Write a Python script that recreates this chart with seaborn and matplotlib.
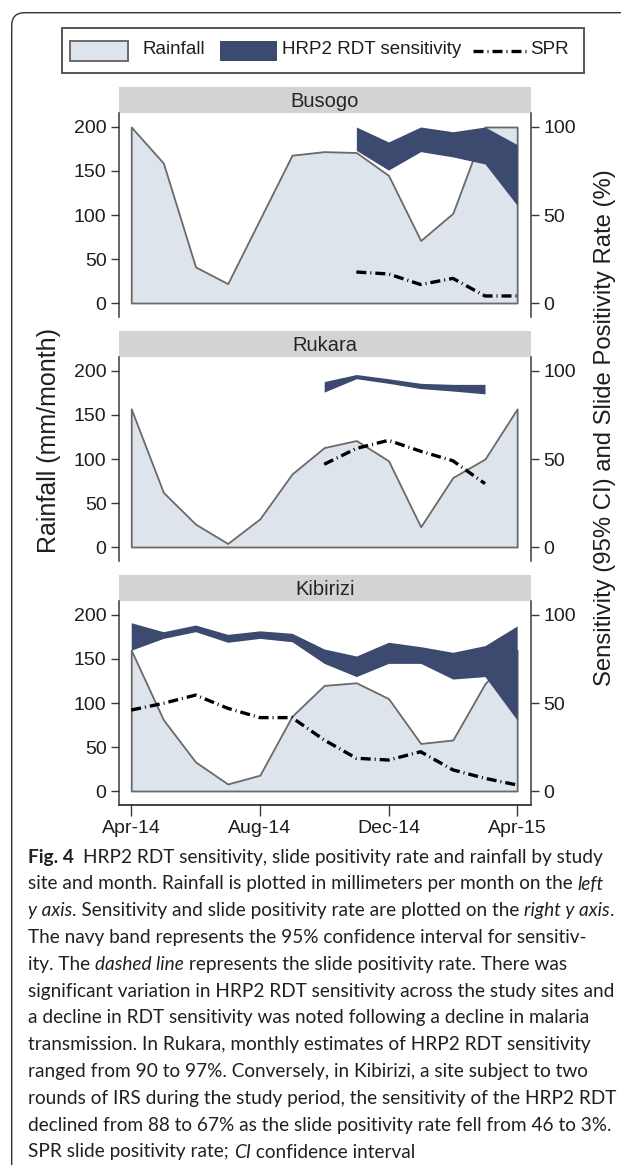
"""HRP2 RDT sensitivity, slide positivity rate and rainfall by site and month."""

import matplotlib
matplotlib.use("Agg")
import matplotlib.pyplot as plt
import numpy as np
import seaborn as sns
from matplotlib import font_manager
from matplotlib.font_manager import FontProperties
from matplotlib.patches import FancyBboxPatch, Rectangle

sns.set_theme(style="white")
plt.rcParams["font.family"] = ["Liberation Sans", "DejaVu Sans"]

nan = np.nan

# ---------------------------------------------------------------------------
# Data
# ---------------------------------------------------------------------------
months = list(range(13))  # Apr-14 .. Apr-15
tick_months = [0, 4, 8, 12]
tick_labels = ["Apr-14", "Aug-14", "Dec-14", "Apr-15"]
sites = ["Busogo", "Rukara", "Kibirizi"]

busogo_rain = [200, 159, 41, 22, 95, 168, 172, 171, 145, 71, 102, 200, 200]
rukara_rain = [157, 62, 26, 4, 32, 83, 113, 121, 98, 23, 79, 100, 157]
kibirizi_rain = [160, 81, 33, 8, 18, 85, 120, 123, 105, 54, 58, 122, 160]

busogo_sens_lo = [nan] * 7 + [86.7, 75.5, 86, 83, 79, 55.5]
busogo_sens_hi = [nan] * 7 + [100, 91.5, 100, 97.3, 100, 90]
rukara_sens_lo = [nan] * 6 + [88, 95.6, 93, 90, 88.6, 87, nan]
rukara_sens_hi = [nan] * 6 + [94, 98, 95.6, 93, 92.4, 92.4, nan]
kibirizi_sens_lo = [80, 86.7, 90.5, 84.5, 86.7, 84.8, 72.5, 65, 72.5, 72.5, 63.6, 65, 40.3]
kibirizi_sens_hi = [95.6, 90.5, 94.3, 89, 91, 89.6, 80.7, 76.7, 84.5, 82, 78.8, 82.6, 93.8]

busogo_spr = [nan] * 7 + [17.6, 16.5, 10.5, 14, 4, 4]
rukara_spr = [nan] * 6 + [47, 56, 60.6, 54.4, 49, 36, nan]
kibirizi_spr = [46, 49.8, 54.5, 47, 41.7, 41.7, 29, 18.6, 17.6, 22.3, 12, 7.2, 3.4]

legend_labels = ["Rainfall", "HRP2 RDT sensitivity", "SPR"]

caption_lines = [
    [("Fig. 4  ", "b"), ("HRP2 RDT sensitivity, slide positivity rate and rainfall by study", "r")],
    [("site and month. Rainfall is plotted in millimeters per month on the ", "r"), ("left", "i")],
    [("y axis", "i"), (". Sensitivity and slide positivity rate are plotted on the ", "r"),
     ("right y axis", "i"), (".", "r")],
    [("The navy band represents the 95% confidence interval for sensitiv-", "r")],
    [("ity. The ", "r"), ("dashed line", "i"), (" represents the slide positivity rate. There was", "r")],
    [("significant variation in HRP2 RDT sensitivity across the study sites and", "r")],
    [("a decline in RDT sensitivity was noted following a decline in malaria", "r")],
    [("transmission. In Rukara, monthly estimates of HRP2 RDT sensitivity", "r")],
    [("ranged from 90 to 97%. Conversely, in Kibirizi, a site subject to two", "r")],
    [("rounds of IRS during the study period, the sensitivity of the HRP2 RDT", "r")],
    [("declined from 88 to 67% as the slide positivity rate fell from 46 to 3%.", "r")],
    [("SPR slide positivity rate; ", "r"), ("CI", "i"), (" confidence interval", "r")],
]

# ---------------------------------------------------------------------------
# Style
# ---------------------------------------------------------------------------
LIGHT = "#dde4eb"
OUTLINE = "#6a6a6a"
NAVY = "#3d4a70"
STRIP = "#d3d3d3"
AXCOL = "#3a3a3a"
SPR_DASH = (0, (3, 1.2, 0.3, 1.2))

W, H = 621, 1165
fig = plt.figure(figsize=(W / 100, H / 100), dpi=100)
fig.patch.set_facecolor("white")


def frac(x0, y0, x1, y1):
    """Pixel box (top-left origin) -> figure fraction rect."""
    return [x0 / W, 1 - y1 / H, (x1 - x0) / W, (y1 - y0) / H]


panels = [
    (busogo_rain, busogo_sens_lo, busogo_sens_hi, busogo_spr),
    (rukara_rain, rukara_sens_lo, rukara_sens_hi, rukara_spr),
    (kibirizi_rain, kibirizi_sens_lo, kibirizi_sens_hi, kibirizi_spr),
]

for i, (name, (rain, lo, hi, spr)) in enumerate(zip(sites, panels)):
    off = 244 * i
    last = i == len(sites) - 1

    # strip title
    sax = fig.add_axes(frac(119, 87 + off, 531, 113 + off))
    sax.set_facecolor(STRIP)
    sax.set_xticks([]); sax.set_yticks([])
    for sp in sax.spines.values():
        sp.set_visible(False)
    sax.text(0.5, 0.45, name, ha="center", va="center", fontsize=14.5, transform=sax.transAxes)

    # rainfall on the left axis
    ax = fig.add_axes(frac(119, 113 + off, 531, 317 + off))
    ax.set_facecolor("white")
    ax.fill_between(months, 0, rain, facecolor=LIGHT, edgecolor=OUTLINE, linewidth=1.3)
    ax.set_xlim(-0.38, 12.43)
    ax.set_ylim(-15.9, 215.9)
    ax.set_yticks([0, 50, 100, 150, 200])

    # sensitivity band + SPR on the right axis
    ax2 = ax.twinx()
    ax2.fill_between(months, lo, hi, facecolor=NAVY, linewidth=0)
    sns.lineplot(x=months, y=spr, ax=ax2, color="black", linewidth=2.4,
                 linestyle=SPR_DASH, errorbar=None, legend=False)
    ax2.set_ylim(-7.95, 107.95)
    ax2.set_yticks([0, 50, 100])
    ax2.set_ylabel(""); ax2.set_xlabel("")

    for a in (ax, ax2):
        a.spines["top"].set_visible(False)
        a.spines["bottom"].set_visible(last)
        for sp in a.spines.values():
            sp.set_color(AXCOL); sp.set_linewidth(1.1)
        a.grid(False)
    ax.spines["right"].set_visible(False)
    ax2.spines["left"].set_visible(False)

    ax.tick_params(axis="y", left=True, length=6, width=1, color=AXCOL,
                   labelsize=14, pad=3, labelcolor="#1e1e1e")
    ax2.tick_params(axis="y", right=True, length=6, width=1, color=AXCOL,
                    labelsize=14, pad=3, labelcolor="#1e1e1e")
    if last:
        ax.set_xticks(tick_months, labels=tick_labels)
        ax.tick_params(axis="x", bottom=True, length=8, width=1, color=AXCOL,
                       labelsize=14, pad=3, labelcolor="#1e1e1e")
    else:
        ax.set_xticks([])

fig.text(49 / W, 1 - 441 / H, "Rainfall (mm/month)", rotation=90,
         ha="center", va="center", fontsize=18, color="#1e1e1e")
fig.text(605 / W, 1 - 428 / H, "Sensitivity (95% CI) and Slide Positivity Rate (%)",
         rotation=90, ha="center", va="center", fontsize=17.2, color="#1e1e1e")

# ---------------------------------------------------------------------------
# Overlay in pixel coordinates: frame, legend, caption
# ---------------------------------------------------------------------------
lax = fig.add_axes([0, 0, 1, 1])
lax.set_xlim(0, W); lax.set_ylim(H, 0)
lax.axis("off"); lax.patch.set_visible(False)

lax.add_patch(FancyBboxPatch((11.7, 12.7), W + 60, H + 60,
                             boxstyle="round,pad=0,rounding_size=13",
                             facecolor="none", edgecolor="#333333", linewidth=1.0))

lax.add_patch(Rectangle((62, 28), 522, 45, facecolor="white", edgecolor="#555555", linewidth=1.4))
lax.add_patch(Rectangle((70, 41), 58, 20, facecolor=LIGHT, edgecolor=OUTLINE, linewidth=1.4))
lax.add_patch(Rectangle((220, 41), 57, 20, facecolor=NAVY, edgecolor="none"))
lax.plot([473, 528], [51, 51], color="black", linewidth=2.4, linestyle=SPR_DASH)
for x, lab in zip([143, 282, 530], legend_labels):
    lax.text(x, 50, lab, ha="left", va="center", fontsize=13.5, color="#1e1e1e")

# caption: pick a narrow face when present, size it to the measured line width
names = {f.name for f in font_manager.fontManager.ttflist}
cap_family = "Liberation Sans Narrow" if "Liberation Sans Narrow" in names else "Lato"
renderer = fig.canvas.get_renderer()
styles = {"r": {}, "b": {"weight": "bold"}, "i": {"style": "italic"}}


def advance(text, style, size):
    fp = FontProperties(family=cap_family, size=size, **styles[style])
    w_all = renderer.get_text_width_height_descent(text + "|", fp, ismath=False)[0]
    w_bar = renderer.get_text_width_height_descent("|", fp, ismath=False)[0]
    return w_all - w_bar


ref_line = caption_lines[5][0][0]
cap_size = 10 * 586 / advance(ref_line, "r", 10)

for k, parts in enumerate(caption_lines):
    x = 28
    y = 862.7 + 26.8 * k
    for text, style in parts:
        lax.text(x, y, text, ha="left", va="baseline", fontsize=cap_size,
                 family=cap_family, color="#231f20", **styles[style])
        x += advance(text, style, cap_size)

fig.savefig("out.png", dpi=100, facecolor="white")
